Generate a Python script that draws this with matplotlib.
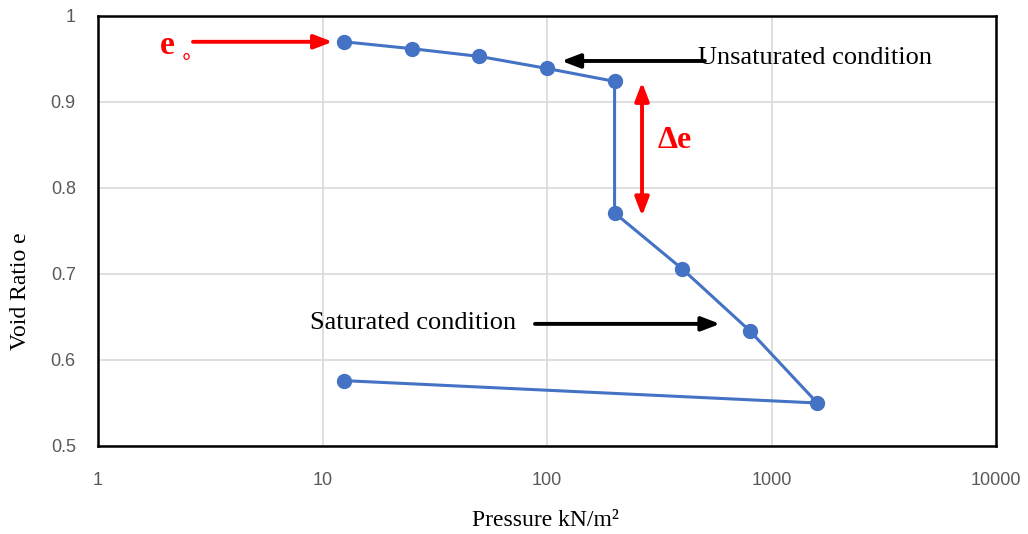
import matplotlib
matplotlib.use("Agg")
import matplotlib.pyplot as plt
from matplotlib.ticker import FixedLocator, NullLocator

# Data
pressure = [12.5, 25, 50, 100, 200, 200, 400, 800, 1600, 12.5]
void_ratio = [0.970, 0.962, 0.953, 0.939, 0.924, 0.771, 0.706, 0.634, 0.550, 0.576]
x_ticks = [1, 10, 100, 1000, 10000]
x_tick_labels = ["1", "10", "100", "1000", "10000"]
y_ticks = [0.5, 0.6, 0.7, 0.8, 0.9, 1.0]
y_tick_labels = ["0.5", "0.6", "0.7", "0.8", "0.9", "1"]

fig = plt.figure(figsize=(10.28, 5.34), dpi=100)
ax = fig.add_axes([98/1028, 1 - 446/534, (996-98)/1028, (446-16)/534])

ax.plot(pressure, void_ratio, color="#4472C4", lw=2.2, marker="o",
        markersize=10, markerfacecolor="#4472C4", markeredgecolor="#4472C4", zorder=3)

ax.set_xscale("log")
ax.set_xlim(1, 10000)
ax.set_ylim(0.5, 1.0)
ax.xaxis.set_major_locator(FixedLocator(x_ticks))
ax.xaxis.set_minor_locator(NullLocator())
ax.set_xticklabels(x_tick_labels)
ax.set_yticks(y_ticks)
ax.set_yticklabels(y_tick_labels)
ax.grid(True, color="#d9d9d9", lw=1.2)
ax.set_axisbelow(True)
for s in ax.spines.values():
    s.set_color("black")
    s.set_linewidth(1.8)
ax.tick_params(axis="both", length=0, labelsize=13, labelcolor="#595959")
ax.tick_params(axis="x", pad=19)
ax.tick_params(axis="y", pad=16)
for lbl in ax.get_xticklabels() + ax.get_yticklabels():
    lbl.set_fontfamily("Liberation Sans")

serif = "Liberation Serif"
fig.text(545/1028, 1 - 521/534, "Pressure kN/m\u00b2", ha="center", va="center",
         fontsize=17, family=serif)
fig.text(21/1028, 1 - 291/534, "Void Ratio e", ha="center", va="center",
         rotation=90, fontsize=17, family=serif)

head = "-|>,head_length=1.1,head_width=0.42"
dhead = "<|-|>,head_length=1.1,head_width=0.42"

# e0 annotation
ax.annotate("", xy=(11.1, 0.970), xytext=(2.65, 0.970),
            arrowprops=dict(arrowstyle=head, color="red", lw=2.8,
                            shrinkA=0, shrinkB=0))
ax.text(1.88, 0.966, "e", color="red", fontsize=24, fontweight="bold",
        family=serif, ha="left", va="center")
ax.text(2.3, 0.952, "\u2218", color="red", fontsize=15,
        family=["DejaVu Sans"], ha="left", va="center")

# Unsaturated condition
ax.annotate("", xy=(116, 0.9477), xytext=(505, 0.9477),
            arrowprops=dict(arrowstyle=head, color="black", lw=2.8,
                            shrinkA=0, shrinkB=0))
ax.text(471, 0.951, "Unsaturated condition", fontsize=19, family=serif,
        ha="left", va="center")

# Delta e
ax.annotate("", xy=(265, 0.7674), xytext=(265, 0.923),
            arrowprops=dict(arrowstyle=dhead, color="red", lw=2.8,
                            shrinkA=0, shrinkB=0))
ax.text(312, 0.855, "\u0394e", color="red", fontsize=23, fontweight="bold",
        family=serif, ha="left", va="center")

# Saturated condition
ax.annotate("", xy=(590, 0.642), xytext=(88.4, 0.642),
            arrowprops=dict(arrowstyle=head, color="black", lw=2.8,
                            shrinkA=0, shrinkB=0))
ax.text(8.8, 0.643, "Saturated condition", fontsize=19, family=serif,
        ha="left", va="center")

fig.savefig("out.png", dpi=100)
